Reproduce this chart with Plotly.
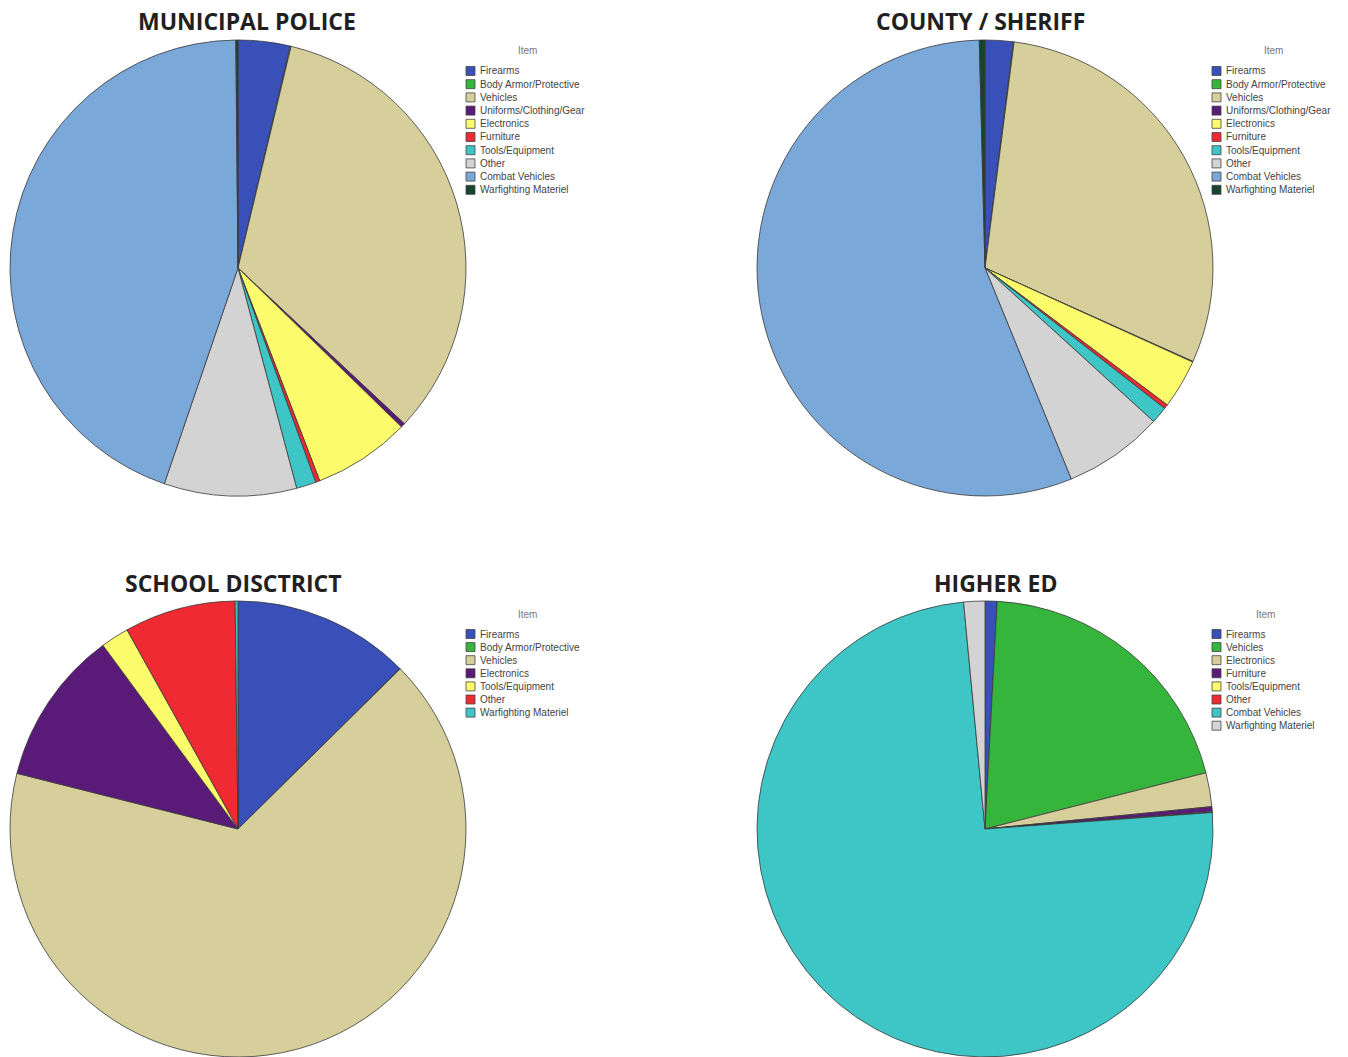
import plotly.graph_objects as go

W, H = 1348, 1057

palette = ["#3850b8", "#35b53c", "#d6cf9b", "#5a1a78", "#fbfb6b",
           "#ef2a32", "#3ec5c5", "#d3d3d3", "#79a8d9", "#16452d"]

munic_labels = ["Firearms", "Body Armor/Protective", "Vehicles", "Uniforms/Clothing/Gear",
                "Electronics", "Furniture", "Tools/Equipment", "Other", "Combat Vehicles",
                "Warfighting Materiel"]
munic_values = [3.7, 0.05, 33.3, 0.3, 6.9, 0.3, 1.4, 9.4, 44.7, 0.15]

county_labels = list(munic_labels)
county_values = [2.0, 0.05, 29.8, 0.05, 3.5, 0.3, 1.2, 7.1, 56.0, 0.4]

school_labels = ["Firearms", "Body Armor/Protective", "Vehicles", "Electronics",
                 "Tools/Equipment", "Other", "Warfighting Materiel"]
school_values = [12.6, 0.02, 66.4, 11.0, 2.0, 7.9, 0.2]

higher_labels = ["Firearms", "Vehicles", "Electronics", "Furniture", "Tools/Equipment",
                 "Other", "Combat Vehicles", "Warfighting Materiel"]
higher_values = [0.85, 20.2, 2.4, 0.35, 0.03, 0.03, 74.7, 1.5]

titles = ["MUNICIPAL POLICE", "COUNTY / SHERIFF", "SCHOOL DISCTRICT", "HIGHER ED"]


def px(x):
    return x / W


def py(y):
    return 1 - y / H


panels = [
    dict(labels=munic_labels, values=munic_values, box=(10, 40, 466, 496),
         title_xy=(247, 21), leg=(466, 51, 527, 71, 13.2)),
    dict(labels=county_labels, values=county_values, box=(757, 40, 1213, 496),
         title_xy=(981, 21), leg=(1212, 51, 1273, 71, 13.2)),
    dict(labels=school_labels, values=school_values, box=(10, 601, 466, 1057),
         title_xy=(233, 583), leg=(466, 614, 527, 634, 13.1)),
    dict(labels=higher_labels, values=higher_values, box=(757, 601, 1213, 1057),
         title_xy=(995, 583), leg=(1212, 614, 1265, 634, 13.1)),
]

fig = go.Figure()
annotations = []
shapes = []

for i, p in enumerate(panels):
    x0, y0, x1, y1 = p["box"]
    cols = palette[:len(p["labels"])]
    fig.add_trace(go.Pie(
        labels=p["labels"], values=p["values"],
        domain=dict(x=[px(x0), px(x1)], y=[py(y1), py(y0)]),
        sort=False, direction="clockwise", rotation=0,
        marker=dict(colors=cols, line=dict(color="#3a3a3a", width=0.8)),
        textinfo="none", showlegend=False, hoverinfo="label+percent",
    ))
    tx, ty = p["title_xy"]
    annotations.append(dict(
        x=px(tx), y=py(ty), xref="paper", yref="paper", text="<b>" + titles[i] + "</b>",
        showarrow=False, xanchor="center", yanchor="middle",
        font=dict(family="Open Sans", size=23, color="#231f20")))
    bx, tly, tlx, ry0, step = p["leg"]
    annotations.append(dict(
        x=px(tlx), y=py(tly), xref="paper", yref="paper", text="Item",
        showarrow=False, xanchor="center", yanchor="middle",
        font=dict(family="Liberation Sans", size=10, color="#777777")))
    for k, lab in enumerate(p["labels"]):
        cy = ry0 + k * step
        shapes.append(dict(
            type="rect", xref="paper", yref="paper",
            x0=px(bx), x1=px(bx + 9), y0=py(cy + 4.5), y1=py(cy - 4.5),
            fillcolor=cols[k], line=dict(color="#444444", width=0.8)))
        annotations.append(dict(
            x=px(bx + 12), y=py(cy), xref="paper", yref="paper", text=lab,
            showarrow=False, xanchor="left", yanchor="middle",
            font=dict(family="Liberation Sans", size=10, color="#444444")))

fig.update_layout(
    width=W, height=H,
    margin=dict(l=0, r=0, t=0, b=0),
    paper_bgcolor="white", plot_bgcolor="white",
    annotations=annotations, shapes=shapes,
)

fig.write_html("out.html")
